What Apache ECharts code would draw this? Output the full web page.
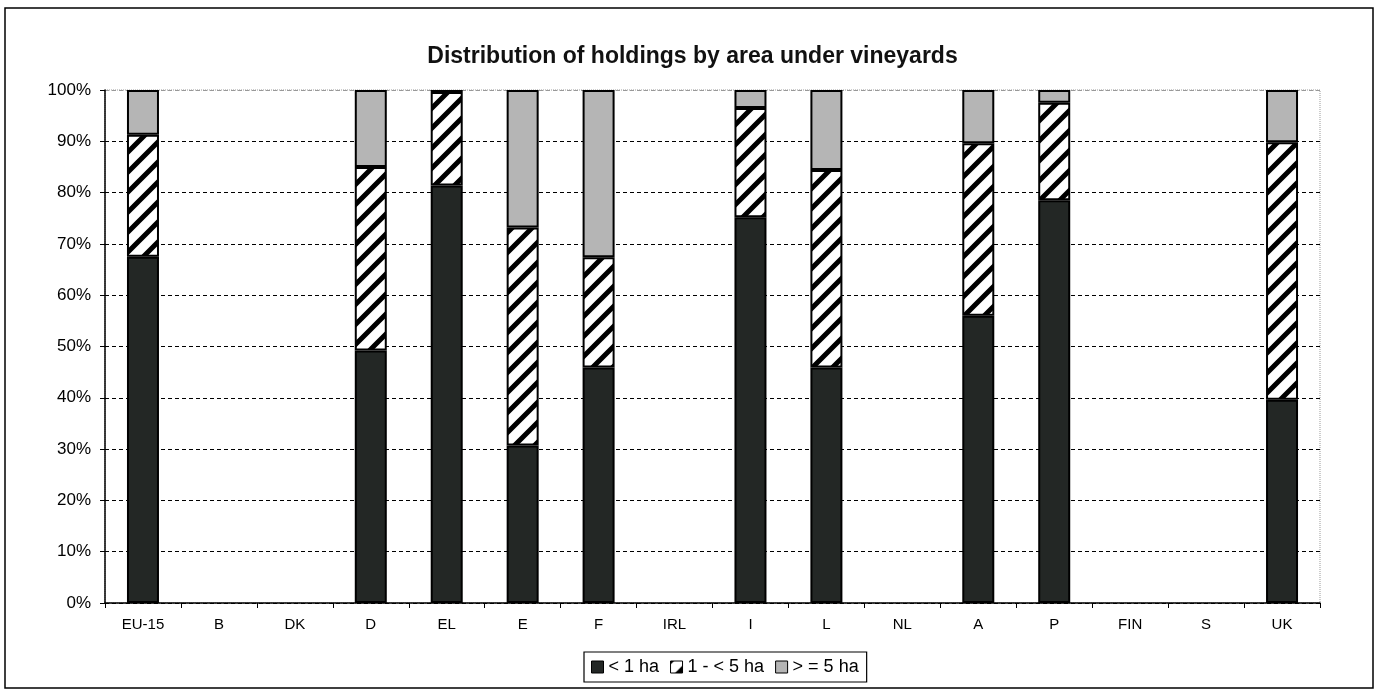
<!DOCTYPE html>
<html>
<head>
<meta charset="utf-8">
<script src="https://cdn.jsdelivr.net/npm/echarts@6/dist/echarts.min.js"></script>
<style>
  html, body { margin: 0; padding: 0; background: #fff; }
  #chart { width: 1385px; height: 690px; }
</style>
</head>
<body>
<div id="chart"></div>
<script>
// categories (member states)
const countries = ['EU-15', 'B', 'DK', 'D', 'EL', 'E', 'F', 'IRL', 'I', 'L', 'NL', 'A', 'P', 'FIN', 'S', 'UK']
const seriesNames = ['< 1 ha', '1 - < 5 ha', '> = 5 ha']

// shares in % (null = no vineyards)
const lessThan1 = [67.5, null, null, 49.2, 81.4, 30.7, 45.9, null, 75.2, 45.9, null, 56.0, 78.5, null, null, 39.6]
const from1to5 = [23.8, null, null, 35.8, 18.2, 42.5, 21.5, null, 21.3, 38.5, null, 33.6, 19.0, null, null, 50.2]
const over5 = [8.7, null, null, 15.0, 0.4, 26.8, 32.6, null, 3.5, 15.6, null, 10.4, 2.5, null, null, 10.2]

const yTicks = { min: 0, max: 100, interval: 10 }

// hatch pattern "/" for 1 - < 5 ha
const makeHatch = () => {
  const c = document.createElement('canvas')
  const s = 20
  c.width = s
  c.height = s
  const ctx = c.getContext('2d')
  ctx.fillStyle = '#fff'
  ctx.fillRect(0, 0, s, s)
  ctx.strokeStyle = '#000'
  ctx.lineWidth = 5
  ctx.beginPath()
  ctx.moveTo(-s, s * 2); ctx.lineTo(s * 2, -s)
  ctx.moveTo(-s, s); ctx.lineTo(s, -s)
  ctx.moveTo(0, s * 2); ctx.lineTo(s * 2, 0)
  ctx.stroke()
  return c
}

const font = "'Liberation Sans', Arial, sans-serif"
const chart = echarts.init(document.getElementById('chart'))

const barStyle = (color) => ({
  color: color,
  borderColor: '#000',
  borderWidth: 2
})

const option = {
  backgroundColor: '#fff',
  animation: false,
  textStyle: { fontFamily: font, color: '#000' },
  title: {
    text: 'Distribution of holdings by area under vineyards',
    left: 'center',
    top: 40,
    textStyle: { fontFamily: font, fontSize: 23, fontWeight: 'bold', color: '#111' }
  },
  graphic: [{
    type: 'rect',
    shape: { x: 5, y: 8, width: 1368, height: 680 },
    style: { fill: 'none', stroke: '#000', lineWidth: 1.5 },
    silent: true
  }],
  legend: {
    left: 584,
    top: 652,
    data: seriesNames,
    icon: 'rect',
    itemWidth: 12,
    itemHeight: 12,
    itemGap: 11,
    padding: [6, 8, 6, 7],
    borderColor: '#000',
    borderWidth: 1.2,
    itemStyle: { borderWidth: 1 },
    textStyle: { fontFamily: font, fontSize: 18, color: '#000' }
  },
  grid: {
    left: 105,
    right: 65,
    top: 90,
    bottom: 87,
    show: true,
    backgroundColor: '#fff',
    borderColor: '#999',
    borderWidth: 1,
    borderType: 'dotted'
  },
  xAxis: {
    type: 'category',
    data: countries,
    boundaryGap: true,
    axisLine: { lineStyle: { color: '#000', width: 1.5 } },
    axisTick: { show: true, length: 5, lineStyle: { color: '#000' } },
    axisLabel: { color: '#000', fontSize: 15, margin: 14, fontFamily: font }
  },
  yAxis: {
    type: 'value',
    min: yTicks.min,
    max: yTicks.max,
    interval: yTicks.interval,
    axisLine: { show: true, lineStyle: { color: '#000', width: 1.5 } },
    axisTick: { show: true, length: 5, lineStyle: { color: '#000' } },
    axisLabel: { color: '#000', fontSize: 17, margin: 14, formatter: '{value}%', fontFamily: font },
    splitLine: {
      show: true,
      lineStyle: {
        color: ['#000', '#000', '#000', '#000', '#000', '#000', '#000', '#000', '#000', '#000', '#999'],
        type: [4, 3],
        width: 1.2
      }
    }
  },
  series: [
    {
      name: seriesNames[0],
      type: 'bar',
      stack: 'total',
      barWidth: 32,
      data: lessThan1,
      itemStyle: barStyle('#232725')
    },
    {
      name: seriesNames[1],
      type: 'bar',
      stack: 'total',
      barWidth: 32,
      data: from1to5,
      itemStyle: barStyle({ image: makeHatch(), repeat: 'repeat' })
    },
    {
      name: seriesNames[2],
      type: 'bar',
      stack: 'total',
      barWidth: 32,
      data: over5,
      itemStyle: barStyle('#b5b5b5')
    }
  ]
}

chart.setOption(option)
</script>
</body>
</html>
